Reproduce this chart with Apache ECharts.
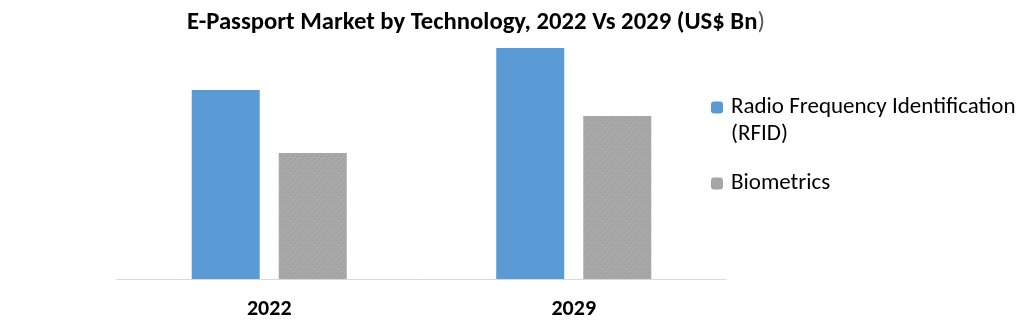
<!DOCTYPE html>
<html>
<head>
<meta charset="utf-8">
<script src="https://cdn.jsdelivr.net/npm/echarts@6/dist/echarts.min.js"></script>
<style>
html,body{margin:0;padding:0;background:#fff;}
#chart{width:1032px;height:322px;}
</style>
</head>
<body>
<div id="chart"></div>
<script>
const titleText = 'E-Passport Market by Technology, 2022 Vs 2029 (US$ Bn';
const categories = ['2022', '2029'];
const seriesNames = ['Radio Frequency Identification (RFID)', 'Biometrics'];
const rfidValues = [18.9, 23.1];
const biometricsValues = [12.6, 16.3];

// fine dotted grey texture like the reference
const pc = document.createElement('canvas');
pc.width = 6; pc.height = 6;
const pctx = pc.getContext('2d');
const dots = [[0,0],[2,1],[4,0],[1,2],[3,3],[5,2],[0,4],[2,5],[4,4],[5,5],[1,3],[3,0]];
pctx.fillStyle = '#ABABAB';
pctx.fillRect(0, 0, 6, 6);
pctx.fillStyle = '#9D9D9D';
dots.forEach(d => pctx.fillRect(d[0], d[1], 1, 1));
const greyPattern = { image: pc, repeat: 'repeat' };

const FONT = 'Carlito, Lato, "Noto Sans", sans-serif';

const chart = echarts.init(document.getElementById('chart'), null, { renderer: 'canvas' });
chart.setOption({
  animation: false,
  backgroundColor: '#ffffff',
  title: {
    text: '{b|' + titleText + '}{n|)}',
    left: 476,
    textAlign: 'center',
    top: 10,
    padding: 0,
    textStyle: {
      rich: {
        b: { fontFamily: FONT, fontWeight: 'bold', fontSize: 24.7, color: '#000' },
        n: { fontFamily: FONT, fontWeight: 'normal', fontSize: 24.7, color: '#595959' }
      }
    }
  },
  legend: [
    {
      data: [seriesNames[0]],
      orient: 'vertical',
      left: 711,
      top: 67,
      padding: 0,
      itemWidth: 12,
      itemHeight: 12,
      formatter: n => '\n' + n.replace(' (RFID)', '\n(RFID)'),
      textStyle: { fontFamily: FONT, fontSize: 23, color: '#000', lineHeight: 27, padding: [0, 0, 0, 3] }
    },
    {
      data: [seriesNames[1]],
      orient: 'vertical',
      left: 711,
      top: 170,
      padding: 0,
      itemWidth: 12,
      itemHeight: 12,
      formatter: n => n,
      textStyle: { fontFamily: FONT, fontSize: 23, color: '#000', lineHeight: 27, padding: [0, 0, 0, 3] }
    }
  ],
  grid: { left: 117, right: 306, top: 48, bottom: 43, containLabel: false },
  xAxis: {
    type: 'category',
    data: categories,
    axisLine: { show: true, lineStyle: { color: '#D9D9D9', width: 1 } },
    axisTick: { show: false },
    axisLabel: { fontFamily: FONT, fontWeight: 'bold', fontSize: 22, color: '#000', margin: 19 }
  },
  yAxis: {
    type: 'value',
    min: 0,
    max: 23.1,
    show: false,
    splitLine: { show: false }
  },
  series: [
    {
      name: seriesNames[0],
      type: 'bar',
      data: rfidValues,
      barWidth: 68,
      barGap: '28%',
      itemStyle: { color: '#5B9BD5' }
    },
    {
      name: seriesNames[1],
      type: 'bar',
      data: biometricsValues,
      barWidth: 68,
      barGap: '28%',
      itemStyle: { color: greyPattern }
    }
  ]
});
</script>
</body>
</html>
